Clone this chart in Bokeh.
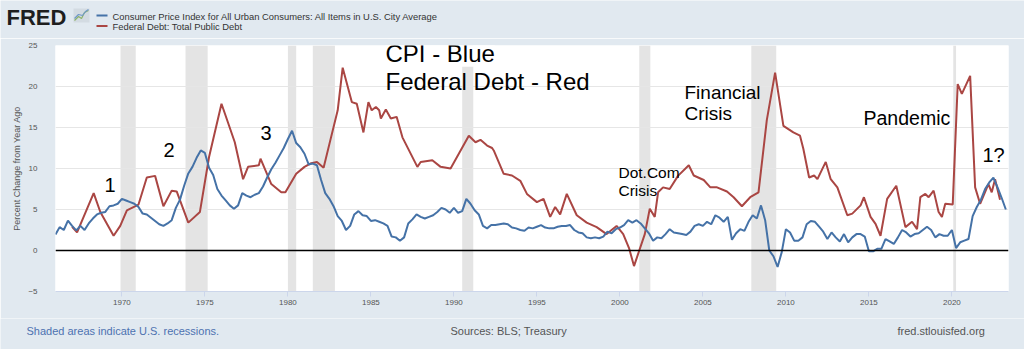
import numpy as np
from bokeh.plotting import figure
from bokeh.layouts import column
from bokeh.models import Range1d, Label, Span
from bokeh.core.properties import value
from bokeh.embed import file_html
from bokeh.resources import INLINE

# ---------------- data ----------------
# CPI, percent change from year ago (quarterly samples, starting 1966 Q1)
cpi_start = 1966.0
cpi_values = [
    1.95, 2.85, 2.5, 3.65,   # 1966
    3.0, 2.45, 3.0, 2.5,     # 1967
    3.3, 3.9, 4.4, 4.6,      # 1968
    4.7, 5.4, 5.5, 5.7,      # 1969
    6.3, 6.1, 5.9, 5.7,      # 1970
    5.3, 4.5, 4.4, 4.0,      # 1971
    3.6, 3.2, 3.0, 3.3,      # 1972
    3.7, 5.2, 6.2, 7.9,      # 1973
    9.4, 10.2, 11.3, 12.2,   # 1974
    11.9, 10.1, 9.2, 7.5,    # 1975
    6.7, 6.1, 5.5, 5.1,      # 1976
    5.5, 7.0, 6.7, 6.5,      # 1977
    6.8, 7.0, 7.8, 8.9,      # 1978
    9.9, 10.7, 11.6, 12.5,   # 1979
    13.6, 14.6, 13.1, 12.6,  # 1980
    11.8, 10.5, 10.6, 10.4,  # 1981
    8.6, 7.0, 6.3, 5.4,      # 1982
    4.2, 3.6, 2.5, 3.0,      # 1983
    4.4, 4.8, 4.3, 4.2,      # 1984
    3.6, 3.7, 3.5, 3.3,      # 1985
    3.0, 1.7, 1.6, 1.2,      # 1986
    1.6, 3.3, 3.8, 4.4,      # 1987
    4.1, 3.9, 4.1, 4.3,      # 1988
    4.7, 5.2, 5.0, 4.6,      # 1989
    5.2, 4.6, 4.8, 6.3,      # 1990
    5.7, 4.9, 4.4, 3.0,      # 1991
    2.7, 3.1, 3.1, 3.2,      # 1992
    3.3, 3.2, 2.8, 2.7,      # 1993
    2.5, 2.4, 2.8, 2.7,      # 1994
    2.9, 3.1, 2.8, 2.7,      # 1995
    2.7, 2.9, 3.0, 3.0,      # 1996
    3.1, 2.5, 2.2, 2.1,      # 1997
    1.6, 1.5, 1.6, 1.5,      # 1998
    1.7, 2.3, 2.1, 2.6,      # 1999
    2.8, 3.1, 3.7, 3.4,      # 2000
    3.7, 3.3, 2.7, 2.1,      # 2001
    1.2, 1.6, 1.5, 2.0,      # 2002
    2.6, 2.2, 2.1, 2.0,      # 2003
    1.9, 2.3, 3.0, 3.2,      # 2004
    3.0, 3.5, 3.2, 4.3,      # 2005
    4.0, 3.5, 4.1, 1.3,      # 2006
    2.1, 2.6, 2.4, 3.5,      # 2007
    4.3, 3.9, 5.5, 3.7,      # 2008
    0.0, -0.7, -2.0, -0.2,   # 2009
    2.6, 2.2, 1.2, 1.2,      # 2010
    1.6, 3.2, 3.6, 3.5,      # 2011
    2.9, 2.3, 1.4, 2.2,      # 2012
    1.6, 1.1, 2.0, 1.0,      # 2013
    1.6, 2.0, 2.0, 1.7,      # 2014
    -0.1, -0.1, 0.2, 0.2,    # 2015
    1.4, 1.1, 0.8, 1.6,      # 2016
    2.5, 2.2, 1.7, 2.0,      # 2017
    2.1, 2.5, 2.9, 2.5,      # 2018
    1.6, 2.0, 1.8, 1.8,      # 2019
    2.5, 0.3, 1.0, 1.2,      # 2020
    1.4, 4.2, 5.3, 6.2,      # 2021
    7.5, 8.3, 8.9, 7.7,      # 2022
    6.4, 5.0,                # 2023
]
cpi_dates = [cpi_start + 0.25 * i for i in range(len(cpi_values))]

# Federal Debt: Total Public Debt, percent change from year ago
debt_dates = [
    1967.0, 1967.3, 1968.3, 1968.7, 1969.5, 1969.9, 1970.3, 1971.0, 1971.5, 1972.0,
    1972.5, 1973.0, 1973.3, 1974.0, 1974.7, 1975.25, 1976.0, 1976.8, 1977.3, 1977.6,
    1978.25, 1978.35, 1979.0, 1979.6, 1979.85, 1980.5, 1981.0, 1981.35, 1981.75, 1982.15,
    1982.55, 1983.0, 1983.3, 1983.85, 1984.15, 1984.55, 1984.85, 1985.05, 1985.3, 1985.5,
    1985.6, 1985.9, 1986.2, 1986.55, 1986.9, 1987.8, 1988.0, 1988.7, 1989.2, 1989.8,
    1990.9, 1991.3, 1991.6, 1992.0, 1992.3, 1992.4, 1993.0, 1993.5, 1994.0, 1994.4,
    1995.0, 1995.4, 1995.8, 1996.1, 1996.4, 1996.8, 1997.4, 1998.0, 1998.6, 1999.2,
    1999.8, 2000.2, 2000.55, 2000.85, 2001.5, 2001.8, 2002.1, 2002.3, 2002.6, 2003.0,
    2003.5, 2004.15, 2004.45, 2005.05, 2005.45, 2005.85, 2006.45, 2006.85, 2007.35, 2007.85,
    2008.35, 2008.85, 2009.35, 2009.85, 2010.45, 2010.85, 2011.05, 2011.4, 2011.7, 2011.9,
    2012.4, 2012.7, 2013.1, 2013.7, 2014.0, 2014.5, 2014.7, 2015.1, 2015.4, 2015.7,
    2016.1, 2016.65, 2017.2, 2017.6, 2017.9, 2018.1, 2018.4, 2018.6, 2018.9, 2019.2,
    2019.4, 2019.6, 2020.05, 2020.35, 2020.6, 2021.1, 2021.4, 2021.7, 2022.2, 2022.4,
    2022.6, 2022.9,
]
debt_values = [
    2.9, 2.2, 7.0, 4.7, 1.8, 3.0, 4.9, 5.6, 8.9, 9.1,
    5.4, 7.3, 7.2, 3.4, 4.7, 11.4, 17.9, 13.2, 8.7, 10.2,
    10.4, 11.2, 8.1, 7.1, 7.1, 9.35, 10.2, 10.6, 10.8, 10.1,
    13.4, 17.1, 22.3, 18.1, 17.9, 14.4, 18.1, 17.1, 17.5, 17.1,
    16.1, 17.2, 16.1, 16.3, 13.8, 10.2, 10.8, 11.0, 10.2, 10.0,
    14.0, 13.2, 13.5, 12.8, 12.5, 12.2, 9.35, 9.15, 8.5, 6.9,
    5.9, 6.3, 4.1, 5.3, 4.4, 6.9, 4.3, 3.4, 2.85, 2.0,
    3.0, 2.0, 0.3, -1.9, 2.0, 5.1, 4.1, 7.1, 7.7, 7.5,
    9.1, 10.4, 9.15, 8.6, 7.7, 7.7, 7.2, 6.5, 5.4, 6.5,
    7.1, 15.9, 21.7, 15.2, 14.4, 14.0, 12.4, 8.9, 9.15, 8.7,
    10.8, 8.7, 7.7, 4.3, 4.5, 5.5, 6.5, 4.1, 3.25, 1.8,
    6.3, 7.9, 2.85, 3.5, 2.6, 6.5, 6.9, 6.5, 7.3, 4.7,
    4.1, 5.7, 5.6, 20.3, 19.1, 21.3, 7.7, 5.7, 8.1, 7.1,
    8.7, 6.2,
]

# U.S. recessions (start, end)
rec_start = [1969.917, 1973.833, 1980.0, 1981.5, 1990.5, 2001.167, 2007.917, 2020.083]
rec_end = [1970.833, 1975.167, 1980.5, 1982.833, 1991.167, 2001.833, 2009.417, 2020.25]

x_tick_years = [1970, 1975, 1980, 1985, 1990, 1995, 2000, 2005, 2010, 2015, 2020]
y_ticks = [-5, 0, 5, 10, 15, 20, 25]

series_names = ["Consumer Price Index for All Urban Consumers: All Items in U.S. City Average",
                "Federal Debt: Total Public Debt"]

# ---------------- layout ----------------
W = 1024
HEAD_H, FOOT_H = 38, 31
MAIN_H = 349 - HEAD_H - FOOT_H           # 280
X0, X1 = 1966.0, 2023.41
Y0, Y1 = -5, 25
FL, FR, FT, FB = 55, 1008, 45, 291        # plot frame in page pixels
BASE_K = 0.3   # em correction for baseline placement in svg output
TXT_DX = 2

def dx(px):
    return X0 + (px - FL) * (X1 - X0) / (FR - FL)

def dy(py):
    return Y1 - (py - FT) * (Y1 - Y0) / (FB - FT)

FONT = "Liberation Sans"
BG = "#e1e9f0"
BLUE = "#4572a7"
RED = "#aa4643"

# ---------------- main chart ----------------
p = figure(width=W, height=MAIN_H, output_backend="svg", toolbar_location=None,
           x_range=Range1d(X0, X1), y_range=Range1d(Y0, Y1),
           min_border_left=FL, min_border_right=W - FR,
           min_border_top=FT - HEAD_H, min_border_bottom=HEAD_H + MAIN_H - FB)
p.border_fill_color = BG
p.background_fill_color = "white"
p.outline_line_color = None

p.xgrid.visible = False
p.ygrid.grid_line_color = "#e6e6e6"
p.ygrid.grid_line_width = 1

p.xaxis.ticker = x_tick_years
p.xaxis.axis_line_color = "#ccd6eb"
p.xaxis.major_tick_line_color = "#ccd6eb"
p.xaxis.major_tick_out = 5
p.xaxis.major_tick_in = 0
p.xaxis.minor_tick_line_color = None
p.xaxis.major_label_standoff = 3
p.xaxis.major_label_text_font = FONT
p.xaxis.major_label_text_font_size = "8px"
p.xaxis.major_label_text_color = "#555555"

p.yaxis.ticker = y_ticks
p.yaxis.axis_line_color = None
p.yaxis.major_tick_line_color = None
p.yaxis.minor_tick_line_color = None
p.yaxis.major_label_standoff = 12
p.yaxis.major_label_text_font = FONT
p.yaxis.major_label_text_font_size = "8px"
p.yaxis.major_label_text_color = "#555555"
p.yaxis.axis_label = "Percent Change from Year Ago"
p.yaxis.axis_label_text_font = FONT
p.yaxis.axis_label_text_font_size = "9px"
p.yaxis.axis_label_text_font_style = "normal"
p.yaxis.axis_label_text_color = "#555555"
p.yaxis.axis_label_standoff = 3

p.quad(left=rec_start, right=rec_end, bottom=Y0, top=Y1,
       fill_color="#e4e4e4", line_color=None, level="underlay")

p.add_layout(Span(location=0, dimension="width", line_color="black", line_width=1.5))

p.line(debt_dates, debt_values, line_color=RED, line_width=2)
p.line(cpi_dates, cpi_values, line_color=BLUE, line_width=2)


def lab(px, py, text, size, bg=None):
    s = float(size.replace("px", ""))
    l = Label(x=dx(px - TXT_DX), y=dy(py - BASE_K * s), text=text, text_font=FONT,
              text_font_size=size, text_color="black", text_align="left",
              text_baseline="alphabetic")
    if bg is not None:
        l.background_fill_color = bg
    p.add_layout(l)

lab(106, 190, "1", "20px")
lab(165, 155, "2", "20px")
lab(262, 138, "3", "20px")
lab(387, 60, "CPI - Blue", "24px", bg="white")
lab(387, 88, "Federal Debt - Red", "24px")
lab(620, 177, "Dot.Com", "15.5px")
lab(620, 195, "Crisis", "15.5px")
lab(686, 98, "Financial", "19px")
lab(686, 119, "Crisis", "19px")
lab(865, 123, "Pandemic", "19.5px")
lab(984, 160, "1?", "20px")


def strip(height, top):
    f = figure(width=W, height=height, output_backend="svg", toolbar_location=None,
               x_range=Range1d(0, W), y_range=Range1d(top + height, top),
               x_axis_type=None, y_axis_type=None,
               min_border_left=0, min_border_right=0, min_border_top=0, min_border_bottom=0)
    f.xgrid.visible = False
    f.ygrid.visible = False
    f.outline_line_color = None
    f.background_fill_color = BG
    f.border_fill_color = BG
    return f


def txt(f, px, py, text, size, color, style="normal"):
    s = float(size.replace("px", ""))
    f.text(x=[px], y=[py - BASE_K * s], text=[text], text_font=value(FONT),
           text_font_size=value(size), text_color=color,
           text_font_style=value(style), text_align="left",
           text_baseline="alphabetic")

# ---------------- header ----------------
head = strip(HEAD_H, 0)
txt(head, 6, 24, "FRED", "22px", "#1e1e1e", "bold")
# small logo icon
head.rect(x=[81], y=[15], width=16, height=14, fill_color="#d3dbe2", line_color=None)
head.line(x=[74, 78, 81, 84, 88], y=[20, 16, 18, 12, 10], line_color="#8db36a", line_width=1.2)
head.line(x=[74, 78, 82, 85, 88], y=[18, 14, 15, 11, 9], line_color="#6f98c8", line_width=1.2)
head.line(x=[96, 107], y=[15, 15], line_color=BLUE, line_width=2)
head.line(x=[96, 107], y=[25.5, 25.5], line_color=RED, line_width=2)
txt(head, 112, 19, series_names[0], "9.4px", "#333333")
txt(head, 112, 29, series_names[1], "9.4px", "#333333")

# ---------------- footer ----------------
foot = strip(FOOT_H, HEAD_H + MAIN_H)
txt(foot, 26, 334, "Shaded areas indicate U.S. recessions.", "11px", "#4d72b0")
txt(foot, 450, 334, "Sources: BLS; Treasury", "11px", "#555555")
txt(foot, 897, 334, "fred.stlouisfed.org", "11px", "#555555")

for f in (head, p, foot):
    if "frame_align" in f.properties():
        f.frame_align = False

layout = column(head, p, foot, spacing=0)
open("out.html", "w").write(file_html(layout, INLINE))
